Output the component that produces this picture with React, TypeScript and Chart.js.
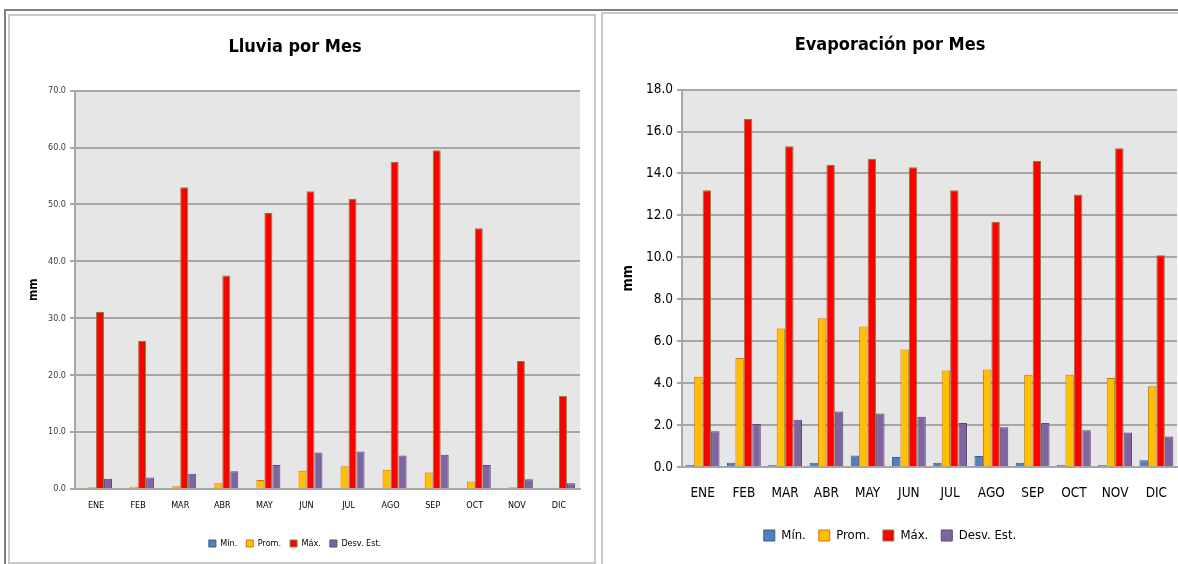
import React, { useEffect, useRef } from "react";
import { Chart, registerables } from "chart.js";

Chart.register(...registerables);

const months = ["ENE", "FEB", "MAR", "ABR", "MAY", "JUN", "JUL", "AGO", "SEP", "OCT", "NOV", "DIC"];
const seriesNames = ["Mín.", "Prom.", "Máx.", "Desv. Est."];

const lluviaMin = [0, 0, 0, 0, 0, 0, 0, 0, 0, 0, 0, 0];
const lluviaProm = [0.3, 0.4, 0.5, 1.0, 1.6, 3.2, 4.0, 3.4, 2.9, 1.3, 0.3, 0.2];
const lluviaMax = [31.1, 26.0, 53.0, 37.5, 48.5, 52.3, 51.0, 57.5, 59.5, 45.8, 22.5, 16.4];
const lluviaDesv = [1.8, 2.0, 2.7, 3.1, 4.2, 6.4, 6.6, 5.9, 6.0, 4.2, 1.7, 1.0];

const evapMin = [0.1, 0.2, 0.1, 0.2, 0.55, 0.48, 0.2, 0.52, 0.2, 0.1, 0.1, 0.32];
const evapProm = [4.3, 5.2, 6.6, 7.1, 6.7, 5.6, 4.6, 4.65, 4.4, 4.4, 4.25, 3.85];
const evapMax = [13.2, 16.6, 15.3, 14.4, 14.7, 14.3, 13.2, 11.7, 14.6, 13.0, 15.2, 10.1];
const evapDesv = [1.7, 2.05, 2.25, 2.65, 2.55, 2.4, 2.1, 1.9, 2.1, 1.75, 1.65, 1.45];

const FONT = "'DejaVu Sans Condensed', 'Liberation Sans Narrow', 'Open Sans', sans-serif";

const fills = ["#4F81BD", "#FFC000", "#FF0000", "#8064A2"];
const borders = ["#385D8A", "#E46C0A", "#6E8B3D", "#5C4776"];

const plotBg = {
  id: "plotBg",
  beforeDraw(chart: any) {
    const { ctx, chartArea } = chart;
    if (!chartArea) return;
    ctx.save();
    ctx.fillStyle = "#E6E6E6";
    ctx.fillRect(chartArea.left, chartArea.top, chartArea.right - chartArea.left, chartArea.bottom - chartArea.top);
    ctx.restore();
  },
};

type Cfg = {
  title: string;
  titleSize: number;
  series: number[][];
  max: number;
  step: number;
  tickSize: number;
  xTickSize: number;
  xTickPad: number;
  legendSize: number;
  yWidth: number;
  xHeight: number;
  titleTop: number;
  titleBottom: number;
  rightPad: number;
  bottomPad: number;
  mmPad: number;
  mmSize: number;
  legendBox: number;
  tickColor: string;
  catPct: number;
};

function Panel({ cfg, w, h }: { cfg: Cfg; w: number; h: number }) {
  const ref = useRef<HTMLCanvasElement | null>(null);
  useEffect(() => {
    if (!ref.current) return;
    const chart = new Chart(ref.current, {
      type: "bar",
      data: {
        labels: months,
        datasets: cfg.series.map((d, i) => ({
          label: seriesNames[i],
          data: d,
          backgroundColor: fills[i],
          borderColor: borders[i],
          borderWidth: 1,
          categoryPercentage: cfg.catPct,
          barPercentage: 1,
        })),
      },
      options: {
        animation: false,
        responsive: false,
        maintainAspectRatio: false,
        layout: { padding: { left: 0, right: cfg.rightPad, top: 0, bottom: cfg.bottomPad } },
        plugins: {
          title: {
            display: true,
            text: cfg.title,
            color: "#000000",
            font: { family: FONT, size: cfg.titleSize, weight: "bold" },
            padding: { top: cfg.titleTop, bottom: cfg.titleBottom },
          },
          legend: {
            position: "bottom",
            labels: {
              color: "#000000",
              font: { family: FONT, size: cfg.legendSize },
              boxWidth: cfg.legendBox,
              boxHeight: cfg.legendBox,
              padding: cfg.legendSize,
            },
          },
          tooltip: { enabled: false },
        },
        scales: {
          x: {
            grid: { display: false },
            border: { display: true, color: "#A6A6A6", width: 2 },
            ticks: { color: "#000000", font: { family: FONT, size: cfg.xTickSize }, maxRotation: 0, padding: cfg.xTickPad },
            afterFit: (axis: any) => {
              axis.height = cfg.xHeight;
            },
          },
          y: {
            min: 0,
            max: cfg.max,
            ticks: {
              stepSize: cfg.step,
              color: cfg.tickColor,
              font: { family: FONT, size: cfg.tickSize },
              callback: (v: any) => Number(v).toFixed(1),
              padding: 4,
            },
            grid: { color: "#A6A6A6", lineWidth: 2, tickLength: 5, drawTicks: true },
            border: { display: true, color: "#A6A6A6", width: 2 },
            title: {
              display: true,
              text: "mm",
              color: "#000000",
              font: { family: FONT, size: cfg.mmSize, weight: "bold" },
              padding: { top: cfg.mmPad, bottom: 0 },
            },
            afterFit: (axis: any) => {
              axis.width = cfg.yWidth;
            },
          },
        },
      } as any,
      plugins: [plotBg],
    });
    return () => chart.destroy();
  }, []);
  return <canvas ref={ref} width={w} height={h} style={{ display: "block", width: w, height: h }} />;
}

const leftCfg: Cfg = {
  title: "Lluvia por Mes",
  titleSize: 18,
  series: [lluviaMin, lluviaProm, lluviaMax, lluviaDesv],
  max: 70,
  step: 10,
  tickSize: 9,
  xTickSize: 9,
  xTickPad: 3,
  legendSize: 9,
  yWidth: 65,
  xHeight: 41,
  titleTop: 21,
  titleBottom: 32,
  rightPad: 14,
  bottomPad: 4,
  mmPad: 17,
  mmSize: 12,
  legendBox: 7,
  tickColor: "#404040",
  catPct: 0.76,
};

const rightCfg: Cfg = {
  title: "Evaporación por Mes",
  titleSize: 18,
  series: [evapMin, evapProm, evapMax, evapDesv],
  max: 18,
  step: 2,
  tickSize: 13.5,
  xTickSize: 13.5,
  xTickPad: 10,
  legendSize: 13,
  yWidth: 79,
  xHeight: 49,
  titleTop: 21,
  titleBottom: 33,
  rightPad: 3,
  bottomPad: 12,
  mmPad: 17,
  mmSize: 14,
  legendBox: 11,
  tickColor: "#000000",
  catPct: 0.82,
};

export default function App() {
  useEffect(() => {
    document.body.style.margin = "0";
  }, []);
  return (
    <div style={{ position: "relative", width: 1178, height: 564, overflow: "hidden", background: "#ffffff" }}>
      <div style={{ position: "absolute", left: 4, top: 9, width: 1174, height: 555, borderTop: "2px solid #7F7F7F", borderLeft: "2px solid #7F7F7F" }} />
      <div style={{ position: "absolute", left: 8, top: 14, width: 584, height: 546, border: "2px solid #C8C8C8", background: "#fff" }}>
        <Panel cfg={leftCfg} w={584} h={546} />
      </div>
      <div style={{ position: "absolute", left: 601, top: 12, width: 577, height: 550, borderLeft: "2px solid #C8C8C8", borderTop: "2px solid #C8C8C8", borderBottom: "2px solid #C8C8C8", background: "#fff" }}>
        <Panel cfg={rightCfg} w={577} h={550} />
      </div>
    </div>
  );
}
